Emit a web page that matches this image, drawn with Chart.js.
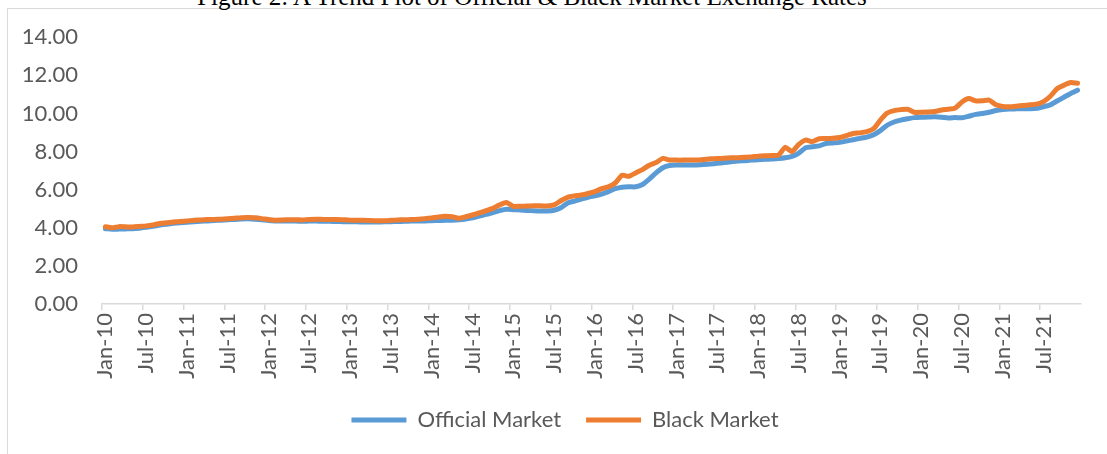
<!DOCTYPE html>
<html>
<head>
<meta charset="utf-8">
<script src="https://cdn.jsdelivr.net/npm/chart.js@4.4.1/dist/chart.umd.min.js"></script>
<style>
  body { margin: 0; background: #fff; overflow: hidden; }
  #wrap { position: relative; width: 1107px; height: 454px; overflow: hidden; }
  #frame { position: absolute; left: 7px; top: 8px; width: 1110px; height: 460px; border: 1.5px solid #d9d9d9; box-sizing: border-box; }
  #title { position: absolute; left: 0; width: 1064px; top: -16px; text-align: center; font: 25px "Liberation Serif", "Times New Roman", serif; line-height: 25px; color: #000; }
  #myChart { position: absolute; left: 0; top: 0; }
</style>
</head>
<body>
<div id="wrap">
  <div id="frame"></div>
  <div id="title">Figure 2: A Trend Plot of Official &amp; Black Market Exchange Rates</div>
  <canvas id="myChart" width="1107" height="454"></canvas>
</div>
<script>
// categories: monthly, Jan-10 .. Dec-21
const months = ["Jan", "Feb", "Mar", "Apr", "May", "Jun", "Jul", "Aug", "Sep", "Oct", "Nov", "Dec"];
const years = ["10", "11", "12", "13", "14", "15", "16", "17", "18", "19", "20", "21"];
const labels = [];
years.forEach(y => months.forEach(m => labels.push(m + "-" + y)));

// series values
const officialMarket = [
    3.95, 3.92, 3.93, 3.94, 3.95, 3.98, 4.02, 4.08, 4.14, 4.19, 4.23, 4.26,
    4.29, 4.32, 4.34, 4.36, 4.38, 4.40, 4.42, 4.44, 4.46, 4.47, 4.45, 4.42,
    4.38, 4.36, 4.35, 4.35, 4.35, 4.34, 4.35, 4.35, 4.34, 4.34, 4.33, 4.32,
    4.32, 4.31, 4.30, 4.30, 4.30, 4.31, 4.32, 4.33, 4.34, 4.35, 4.35, 4.36,
    4.37, 4.38, 4.39, 4.40, 4.42, 4.46, 4.52, 4.62, 4.70, 4.80, 4.90, 4.97,
    4.95, 4.93, 4.91, 4.89, 4.88, 4.88, 4.92, 5.05, 5.30, 5.40, 5.50, 5.60,
    5.68, 5.77, 5.90, 6.05, 6.13, 6.15, 6.15, 6.27, 6.55, 6.88, 7.15, 7.27,
    7.29, 7.29, 7.29, 7.30, 7.32, 7.35, 7.38, 7.42, 7.46, 7.50, 7.52, 7.55,
    7.57, 7.59, 7.61, 7.63, 7.67, 7.75, 7.92, 8.20, 8.25, 8.30, 8.42, 8.45,
    8.48, 8.55, 8.62, 8.69, 8.76, 8.88, 9.10, 9.38, 9.55, 9.65, 9.72, 9.78,
    9.80, 9.81, 9.82, 9.80, 9.76, 9.78, 9.77, 9.85, 9.95, 10.00, 10.06, 10.15,
    10.20, 10.23, 10.24, 10.25, 10.25, 10.27, 10.35, 10.45, 10.65, 10.85, 11.05, 11.22
];
const blackMarket = [
    4.05, 4.00, 4.06, 4.05, 4.04, 4.07, 4.10, 4.15, 4.22, 4.26, 4.30, 4.33,
    4.36, 4.40, 4.41, 4.43, 4.44, 4.45, 4.47, 4.50, 4.53, 4.54, 4.52, 4.48,
    4.43, 4.40, 4.41, 4.42, 4.42, 4.41, 4.44, 4.45, 4.44, 4.43, 4.44, 4.42,
    4.40, 4.40, 4.39, 4.38, 4.37, 4.37, 4.39, 4.41, 4.42, 4.43, 4.45, 4.48,
    4.52, 4.57, 4.60, 4.58, 4.50, 4.58, 4.67, 4.78, 4.90, 5.02, 5.20, 5.33,
    5.12, 5.13, 5.14, 5.15, 5.15, 5.14, 5.20, 5.42, 5.60, 5.67, 5.72, 5.80,
    5.90, 6.05, 6.15, 6.35, 6.75, 6.70, 6.88, 7.05, 7.28, 7.42, 7.64, 7.56,
    7.55, 7.55, 7.56, 7.55, 7.58, 7.62, 7.63, 7.65, 7.67, 7.68, 7.70, 7.72,
    7.76, 7.78, 7.79, 7.81, 8.22, 8.00, 8.38, 8.60, 8.52, 8.67, 8.68, 8.70,
    8.74, 8.84, 8.95, 8.98, 9.04, 9.20, 9.65, 10.02, 10.15, 10.20, 10.22, 10.06,
    10.06, 10.07, 10.10, 10.18, 10.22, 10.28, 10.60, 10.78, 10.66, 10.66, 10.70, 10.45,
    10.36, 10.35, 10.38, 10.42, 10.45, 10.49, 10.62, 10.90, 11.30, 11.48, 11.62, 11.58
];

const textColor = "#595959";
const font = { family: "Lato, 'Open Sans', sans-serif", size: 22 };

const data = {
    labels: labels,
    datasets: [
        {
            label: "Black Market",
            data: blackMarket,
            borderColor: "#ED7D31",
            backgroundColor: "#ED7D31",
            borderWidth: 5,
            borderCapStyle: "round",
            borderJoinStyle: "round",
            pointRadius: 0,
            tension: 0.2,
        },
        {
            label: "Official Market",
            data: officialMarket,
            borderColor: "#5B9BD5",
            backgroundColor: "#5B9BD5",
            borderWidth: 5,
            borderCapStyle: "round",
            borderJoinStyle: "round",
            pointRadius: 0,
            tension: 0.2,
        },
    ],
};

// nudge the legend a bit to the right, as in the original figure
const shiftLegend = {
    id: "shiftLegend",
    afterLayout(chart) {
        chart.legend.left += 42;
    },
};

const config = {
    type: "line",
    data: data,
    plugins: [shiftLegend],
    options: {
        responsive: false,
        animation: false,
        devicePixelRatio: 1,
        layout: { padding: { top: 37, right: 19, bottom: 13, left: 0 } },
        scales: {
            x: {
                offset: true,
                grid: {
                    offset: true,
                    drawOnChartArea: false,
                    tickLength: 6,
                    lineWidth: 1.5,
                    color: (ctx) => (ctx.index % 6 === 0 ? "#d9d9d9" : "rgba(0,0,0,0)"),
                },
                border: { color: "#d9d9d9", width: 1.5 },
                ticks: {
                    autoSkip: false,
                    maxRotation: 90,
                    minRotation: 90,
                    padding: 3,
                    color: textColor,
                    font: font,
                    callback: function (v, i) { return i % 6 === 0 ? labels[i] : ""; },
                },
                afterFit: (scale) => { scale.height = 80; },
            },
            y: {
                min: 0,
                max: 14,
                grid: { display: false, drawTicks: false },
                border: { display: false },
                ticks: {
                    stepSize: 2,
                    padding: 24,
                    color: textColor,
                    font: font,
                    callback: (v) => v.toFixed(2),
                },
                afterFit: (scale) => { scale.width = 102; },
            },
        },
        plugins: {
            tooltip: { enabled: false },
            legend: {
                position: "bottom",
                labels: {
                    usePointStyle: true,
                    pointStyle: "line",
                    pointStyleWidth: 55,
                    padding: 25,
                    color: textColor,
                    font: font,
                    sort: (a, b) => b.datasetIndex - a.datasetIndex,
                },
            },
        },
    },
};

const myChart = new Chart(document.getElementById("myChart"), config);
</script>
</body>
</html>
